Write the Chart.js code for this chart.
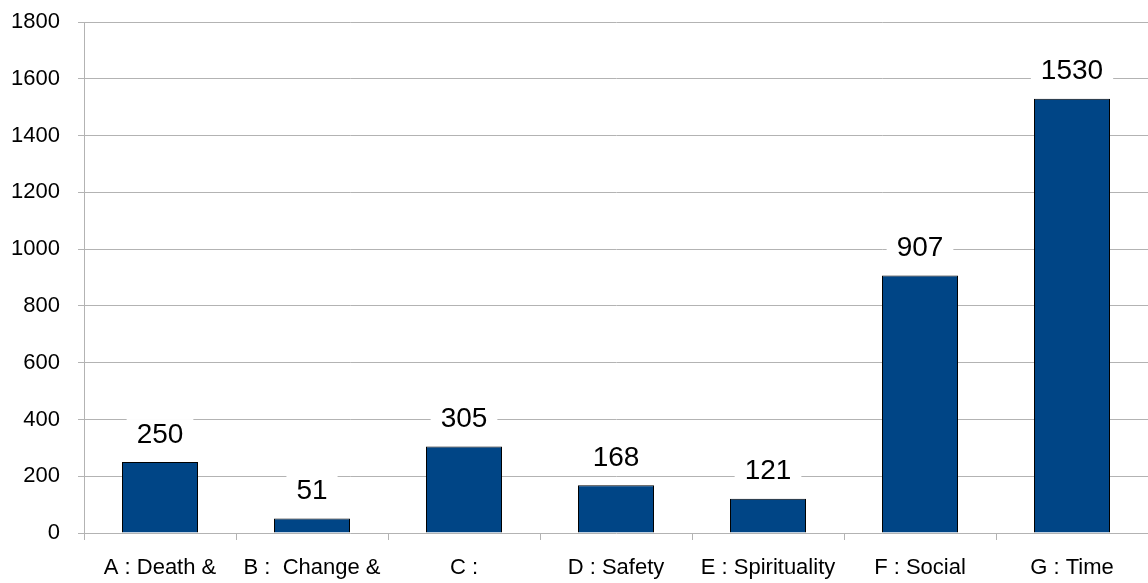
<!DOCTYPE html>
<html>
<head>
<meta charset="utf-8">
<script src="https://cdn.jsdelivr.net/npm/chart.js@4.4.1/dist/chart.umd.min.js"></script>
<style>
  html, body { margin: 0; padding: 0; background: #fff; overflow: hidden; }
  #wrap { width: 1148px; height: 583px; }
</style>
</head>
<body>
<div id="wrap"><canvas id="chart" width="1148" height="583"></canvas></div>
<script>
const categories = ["A : Death &", "B :  Change &", "C :", "D : Safety", "E : Spirituality", "F : Social", "G : Time"];
const counts = [250, 51, 305, 168, 121, 907, 1530];
const yTicks = [0, 200, 400, 600, 800, 1000, 1200, 1400, 1600, 1800];

// value labels above bars, on a white box that breaks the gridlines
const valueLabels = {
  id: "valueLabels",
  afterDatasetsDraw(chart) {
    const ctx = chart.ctx;
    const meta = chart.getDatasetMeta(0);
    ctx.save();
    ctx.font = "28px 'Liberation Sans', Arial, sans-serif";
    ctx.textAlign = "center";
    ctx.textBaseline = "middle";
    meta.data.forEach((bar, i) => {
      const txt = String(counts[i]);
      const w = ctx.measureText(txt).width;
      const cy = bar.y - 28;
      ctx.fillStyle = "#fff";
      ctx.fillRect(bar.x - w / 2 - 10, cy - 15, w + 20, 30);
      ctx.fillStyle = "#000";
      ctx.fillText(txt, bar.x, cy + 1);
    });
    ctx.restore();
  }
};

new Chart(document.getElementById("chart"), {
  type: "bar",
  data: {
    labels: categories,
    datasets: [{
      data: counts,
      backgroundColor: "#004586",
      borderColor: "#000",
      borderWidth: 1,
      barPercentage: 0.5,
      categoryPercentage: 1.0
    }]
  },
  options: {
    responsive: false,
    animation: false,
    layout: { padding: { top: 22, right: 0, left: 0, bottom: 0 } },
    plugins: { legend: { display: false }, tooltip: { enabled: false } },
    scales: {
      x: {
        offset: true,
        grid: { offset: true, drawOnChartArea: false, color: "#b3b3b3", tickLength: 7 },
        border: { display: false },
        ticks: {
          color: "#000",
          font: { family: "'Liberation Sans', Arial, sans-serif", size: 22 },
          maxRotation: 0, autoSkip: false, padding: 15
        },
        afterFit: s => { s.height = 50; }
      },
      y: {
        min: 0, max: 1800,
        afterBuildTicks: s => { s.ticks = yTicks.map(v => ({ value: v })); },
        grid: { color: "#b3b3b3", tickLength: 6 },
        border: { color: "#b3b3b3" },
        ticks: {
          color: "#000",
          font: { family: "'Liberation Sans', Arial, sans-serif", size: 22 },
          padding: 18,
          callback: v => String(v)
        },
        afterFit: s => { s.width = 84; s.paddingTop = 0; s.paddingBottom = 0; }
      }
    }
  },
  plugins: [valueLabels]
});
</script>
</body>
</html>
